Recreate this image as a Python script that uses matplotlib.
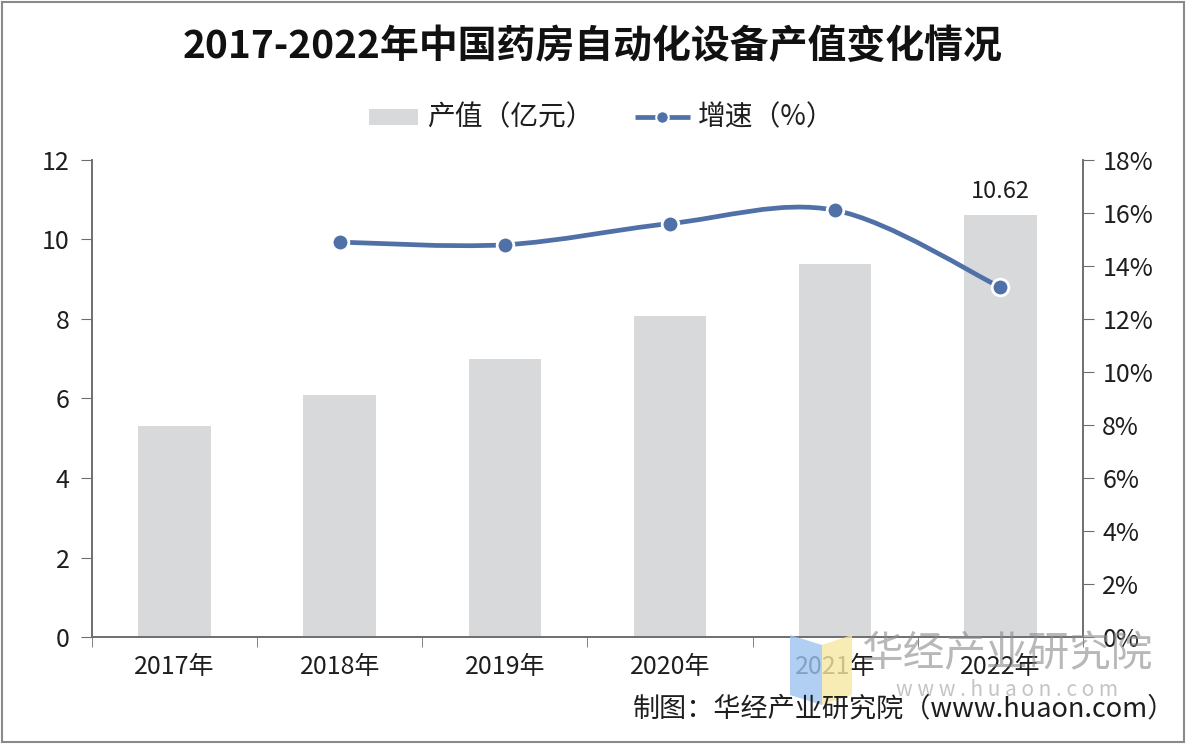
import matplotlib.pyplot as plt
from matplotlib.path import Path
from matplotlib.patches import PathPatch, Polygon, Rectangle
from matplotlib.ticker import FuncFormatter, MultipleLocator, FixedLocator
import numpy as np

plt.rcParams['font.family'] = ['Noto Sans CJK SC', 'DejaVu Sans']

# data
years = ['2017年', '2018年', '2019年', '2020年', '2021年', '2022年']
output = [5.30, 6.09, 6.99, 8.08, 9.38, 10.62]      # 产值（亿元）
growth_years = [1, 2, 3, 4, 5]                       # index into years
growth = [14.9, 14.8, 15.6, 16.1, 13.2]              # 增速（%）

bar_color = '#d8d9db'
line_color = '#5070a8'
text_color = '#1e1e1e'
axis_color = '#6e6e6e'

fig = plt.figure(figsize=(11.86, 7.44), dpi=100)
ax = fig.add_axes([0.0776, 0.1438, 0.8354, 0.6412])
ax2 = ax.twinx()

x = np.arange(len(years))
ax.bar(x, output, width=0.44, color=bar_color, zorder=2)
ax.text(x[-1], output[-1] + 0.3, f'{output[-1]:.2f}', ha='center', va='bottom',
        fontsize=17, color=text_color)

ax.set_xlim(-0.5, len(years) - 0.5)
ax.set_ylim(0, 12)
ax.yaxis.set_major_locator(MultipleLocator(2))
ax.set_xticks(x)
ax.set_xticklabels(years)
ax.xaxis.set_minor_locator(FixedLocator(np.arange(-0.5, len(years), 1.0)))
ax.tick_params(axis='x', which='major', length=0, pad=12, labelsize=18, labelcolor=text_color)
ax.tick_params(axis='x', which='minor', length=7, color=axis_color, direction='out')
ax.tick_params(axis='y', length=8, color=axis_color, labelsize=18, labelcolor=text_color, pad=8)

ax2.set_ylim(0, 18)
ax2.yaxis.set_major_locator(MultipleLocator(2))
ax2.yaxis.set_major_formatter(FuncFormatter(lambda v, p: f'{v:.0f}%'))
ax2.tick_params(axis='y', length=8, color=axis_color, labelsize=18, labelcolor=text_color, pad=6)

for a in (ax, ax2):
    a.spines['top'].set_visible(False)
    for s in ('left', 'right', 'bottom'):
        a.spines[s].set_color(axis_color)
        a.spines[s].set_linewidth(1.2)

# smooth line through the growth points (catmull-rom drawn as bezier segments)
px = np.array(growth_years, dtype=float)
py = np.array(growth, dtype=float)
verts = [(px[0], py[0])]
codes = [Path.MOVETO]
n = len(px)
for i in range(n - 1):
    p0 = (px[max(i - 1, 0)], py[max(i - 1, 0)])
    p1 = (px[i], py[i])
    p2 = (px[i + 1], py[i + 1])
    p3 = (px[min(i + 2, n - 1)], py[min(i + 2, n - 1)])
    c1 = (p1[0] + (p2[0] - p0[0]) / 6, p1[1] + (p2[1] - p0[1]) / 6)
    c2 = (p2[0] - (p3[0] - p1[0]) / 6, p2[1] - (p3[1] - p1[1]) / 6)
    verts += [c1, c2, p2]
    codes += [Path.CURVE4] * 3
ax2.add_patch(PathPatch(Path(verts, codes), facecolor='none', edgecolor=line_color,
                        lw=3.4, zorder=3, capstyle='round'))
ax2.plot(px, py, linestyle='none', marker='o', markersize=12, color=line_color,
         markeredgecolor='white', markeredgewidth=2, zorder=4)

# title and legend
fig.text(0.5, 0.937, '2017-2022年中国药房自动化设备产值变化情况', ha='center', va='center',
         fontsize=28, fontweight='bold', color='#111111')
lx = 369 / 1186
ly = 1 - 117 / 744
fig.patches.append(Rectangle((lx, ly - 0.011), 49 / 1186, 0.022, transform=fig.transFigure,
                             facecolor=bar_color, edgecolor='none'))
fig.text(427 / 1186, ly, '产值（亿元）', ha='left', va='center', fontsize=20, color=text_color)
fig.lines.append(plt.Line2D([635 / 1186, 690 / 1186], [ly, ly], transform=fig.transFigure,
                            color=line_color, lw=3.4, solid_capstyle='butt'))
fig.lines.append(plt.Line2D([662 / 1186], [ly], transform=fig.transFigure, color=line_color,
                            marker='o', markersize=9, markeredgecolor='white',
                            markeredgewidth=1.5, linestyle='none'))
fig.text(698 / 1186, ly, '增速（%）', ha='left', va='center', fontsize=20, color=text_color)

# watermark
fig.patches.append(Polygon([[790 / 1186, 1 - 635 / 744], [822 / 1186, 1 - 645 / 744],
                            [822 / 1186, 1 - 705 / 744], [790 / 1186, 1 - 695 / 744]],
                           closed=True, transform=fig.transFigure, facecolor='#9cc3f0',
                           edgecolor='none', alpha=0.8, zorder=5))
fig.patches.append(Polygon([[822 / 1186, 1 - 645 / 744], [852 / 1186, 1 - 635 / 744],
                            [852 / 1186, 1 - 695 / 744], [822 / 1186, 1 - 705 / 744]],
                           closed=True, transform=fig.transFigure, facecolor='#f6e8a0',
                           edgecolor='none', alpha=0.8, zorder=5))
fig.text(1007 / 1186, 1 - 655 / 744, '华经产业研究院', ha='center', va='center',
         fontsize=30, color='#8a8a8a', alpha=0.6, zorder=5)
fig.text(1007 / 1186, 1 - 690 / 744, 'w w w . h u a o n . c o m', ha='center', va='center',
         fontsize=15, color='#8a8a8a', alpha=0.5, zorder=5)

fig.text(633 / 1186, 1 - 709 / 744, '制图：华经产业研究院（www.huaon.com）', ha='left',
         va='center', fontsize=19.5, color=text_color, zorder=6)

# outer frame
fig.patches.append(Rectangle((0.002, 0.003), 0.996, 0.994, transform=fig.transFigure,
                             facecolor='none', edgecolor='#8a8a8a', lw=1.5))

fig.savefig('out.png', dpi=100, facecolor='white')
